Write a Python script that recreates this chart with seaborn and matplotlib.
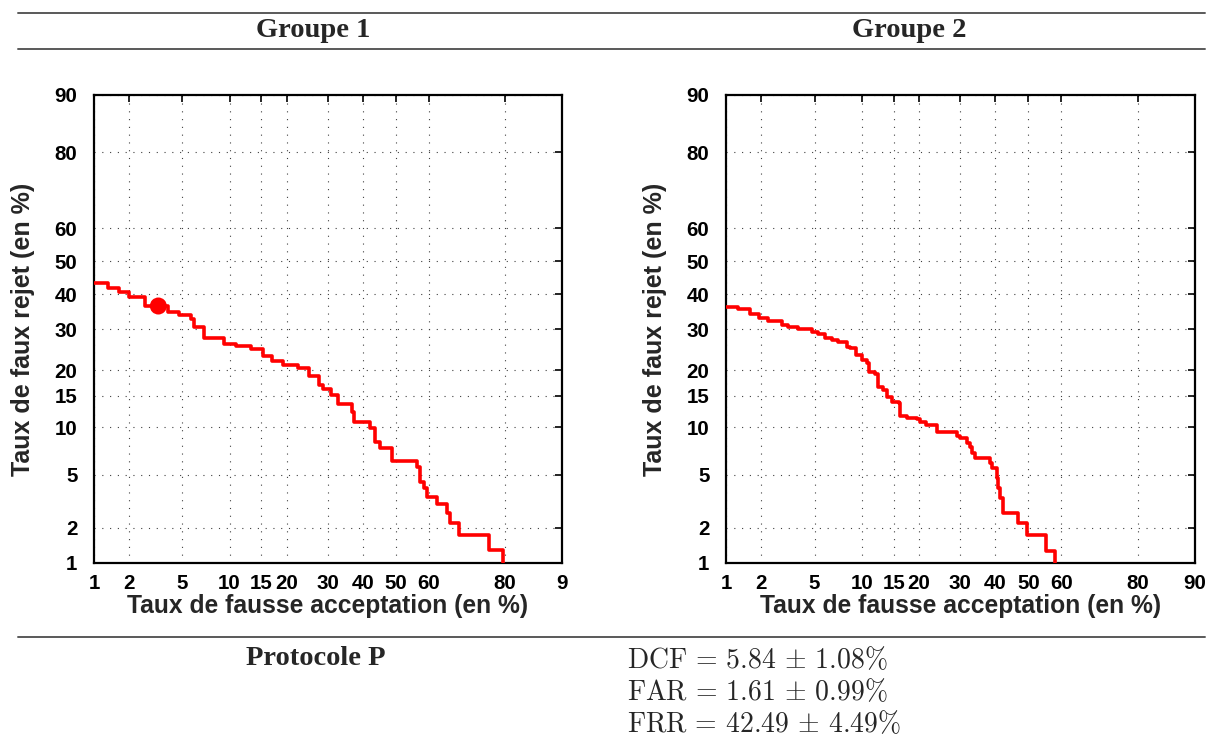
from statistics import NormalDist

import matplotlib
matplotlib.use("Agg")
import matplotlib.pyplot as plt
from matplotlib.lines import Line2D
from matplotlib.ticker import FixedLocator, FixedFormatter, NullLocator
import numpy as np
import pandas as pd
import seaborn as sns

# --- DATA (DET curves, percentages) ---
g1_fa = [1.0, 1.33, 1.33, 1.64, 1.64, 1.98, 1.98, 2.66, 2.66, 3.98, 3.98, 4.75, 4.75,
         5.7, 5.7, 6.0, 6.0, 6.98, 6.98, 9.3, 9.3, 10.9, 10.9, 13.2, 13.2, 15.3, 15.3,
         17.0, 17.0, 19.2, 19.2, 22.5, 22.5, 25.3, 25.3, 27.7, 27.7, 28.8, 28.8, 31.0,
         31.0, 32.8, 32.8, 36.9, 36.9, 37.5, 37.5, 42.1, 42.1, 43.6, 43.6, 45.2, 45.2,
         48.7, 48.7, 56.4, 56.4, 57.5, 57.5, 58.5, 58.5, 59.4, 59.4, 62.4, 62.4, 65.3,
         65.3, 66.1, 66.1, 68.6, 68.6, 76.3, 76.3, 79.6, 79.6]
g1_fr = [43.4, 43.4, 41.8, 41.8, 40.7, 40.7, 39.1, 39.1, 36.5, 36.5, 34.7, 34.7, 33.9,
         33.9, 32.7, 32.7, 30.5, 30.5, 27.6, 27.6, 26.2, 26.2, 25.7, 25.7, 24.9, 24.9,
         23.3, 23.3, 22.2, 22.2, 21.2, 21.2, 20.5, 20.5, 18.8, 18.8, 17.0, 17.0, 16.2,
         16.2, 15.1, 15.1, 13.6, 13.6, 12.2, 12.2, 10.7, 10.7, 9.9, 9.9, 8.2, 8.2, 7.5,
         7.5, 6.2, 6.2, 5.6, 5.6, 4.46, 4.46, 4.0, 4.0, 3.44, 3.44, 3.07, 3.07, 2.6,
         2.6, 2.17, 2.17, 1.74, 1.74, 1.30, 1.30, 0.5]

g2_fa = [1.0, 1.28, 1.28, 1.61, 1.61, 1.92, 1.92, 2.27, 2.27, 2.89, 2.89, 3.24, 3.24,
         3.84, 3.84, 4.78, 4.78, 5.3, 5.3, 5.88, 5.88, 6.52, 6.52, 7.19, 7.19, 8.11,
         8.11, 8.5, 8.5, 9.2, 9.2, 9.99, 9.99, 10.68, 10.68, 11.05, 11.05, 11.9, 11.9,
         12.4, 12.4, 13.2, 13.2, 13.8, 13.8, 14.7, 14.7, 15.9, 15.9, 16.2, 16.2, 17.5,
         17.5, 19.5, 19.5, 20.2, 20.2, 21.6, 21.6, 24.2, 24.2, 29.1, 29.1, 30.0, 30.0,
         31.8, 31.8, 32.7, 32.7, 33.1, 33.1, 34.1, 34.1, 38.4, 38.4, 38.9, 38.9, 40.4,
         40.4, 40.9, 40.9, 41.4, 41.4, 42.4, 42.4, 46.9, 46.9, 49.7, 49.7, 55.4, 55.4,
         58.1, 58.1]
g2_fr = [36.1, 36.1, 35.7, 35.7, 34.1, 34.1, 33.2, 33.2, 32.3, 32.3, 31.2, 31.2, 30.5,
         30.5, 30.1, 30.1, 29.4, 29.4, 28.8, 28.8, 27.8, 27.8, 27.2, 27.2, 26.6, 26.6,
         25.5, 25.5, 25.1, 25.1, 23.5, 23.5, 22.3, 22.3, 21.7, 21.7, 19.7, 19.7, 19.2,
         19.2, 16.7, 16.7, 16.05, 16.05, 14.8, 14.8, 13.95, 13.95, 13.7, 13.7, 11.65,
         11.65, 11.3, 11.3, 11.2, 11.2, 10.7, 10.7, 10.35, 10.35, 9.45, 9.45, 8.9, 8.9,
         8.6, 8.6, 8.0, 8.0, 7.65, 7.65, 6.95, 6.95, 6.5, 6.5, 5.97, 5.97, 5.52, 5.52,
         4.72, 4.72, 4.0, 4.0, 3.38, 3.38, 2.6, 2.6, 2.17, 2.17, 1.74, 1.74, 1.28, 1.28,
         0.5]

# operating point (DCF) on group 1
dcf_fa = [3.36]
dcf_fr = [36.5]

ticks = [1, 2, 5, 10, 15, 20, 30, 40, 50, 60, 80, 90]
tick_labels = ['1', '2', '5', '10', '15', '20', '30', '40', '50', '60', '80', '90']
xtick_labels_g1 = ['1', '2', '5', '10', '15', '20', '30', '40', '50', '60', '80', '9']

groups = ['Groupe 1', 'Groupe 2']
protocol = 'Protocole P'
results = [r'$\mathrm{DCF}\,=\,5.84\,\pm\,1.08\%$',
           r'$\mathrm{FAR}\,=\,1.61\,\pm\,0.99\%$',
           r'$\mathrm{FRR}\,=\,42.49\,\pm\,4.49\%$']

# --- probit scale ---
nd = NormalDist()
_inv = np.vectorize(nd.inv_cdf, otypes=[float])
_cdf = np.vectorize(nd.cdf, otypes=[float])


def probit(p):
    p = np.clip(np.asarray(p, dtype=float) / 100.0, 1e-9, 1 - 1e-9)
    p = np.where(np.isnan(p), 0.5, p)
    return _inv(p)


def inv_probit(z):
    z = np.asarray(z, dtype=float)
    z = np.where(np.isnan(z), 0.0, z)
    return _cdf(z) * 100.0


sns.set_theme(style='white')
plt.rcParams['font.family'] = ['Liberation Sans', 'DejaVu Sans']
plt.rcParams['mathtext.fontset'] = 'cm'

fig = plt.figure(figsize=(12.11, 7.43), dpi=100)

panels = [
    (pd.DataFrame({'fa': g1_fa, 'fr': g1_fr}), xtick_labels_g1, [94, 562]),
    (pd.DataFrame({'fa': g2_fa, 'fr': g2_fr}), tick_labels, [726, 1195]),
]

W, H = 1211, 743
for i, (df, xlabs, (x0, x1)) in enumerate(panels):
    ax = fig.add_axes([x0 / W, 1 - 563 / H, (x1 - x0) / W, 468 / H])
    ax.set_xscale('function', functions=(probit, inv_probit))
    ax.set_yscale('function', functions=(probit, inv_probit))

    sns.lineplot(data=df, x='fa', y='fr', sort=False, estimator=None,
                 color='#ff0000', lw=2.6, ax=ax, zorder=3)
    if i == 0:
        sns.scatterplot(x=dcf_fa, y=dcf_fr, color='#ff0000', s=150,
                        edgecolor='none', ax=ax, zorder=4)

    ax.set_xlim(1, 90)
    ax.set_ylim(1, 90)
    ax.xaxis.set_major_locator(FixedLocator(ticks))
    ax.xaxis.set_major_formatter(FixedFormatter(xlabs))
    ax.yaxis.set_major_locator(FixedLocator(ticks))
    ax.yaxis.set_major_formatter(FixedFormatter(tick_labels))
    ax.xaxis.set_minor_locator(NullLocator())
    ax.yaxis.set_minor_locator(NullLocator())

    ax.grid(True, which='major', color='0.25', linestyle=(0, (1, 6)), lw=0.8)
    ax.tick_params(direction='in', length=5, width=1.2, top=True, right=True,
                   labelsize=14.8, colors='black')
    ax.tick_params(axis='x', pad=8)
    ax.tick_params(axis='y', pad=12)
    for lab in ax.get_xticklabels() + ax.get_yticklabels():
        lab.set_fontweight('bold')
    for s in ax.spines.values():
        s.set_color('black')
        s.set_linewidth(1.6)

    ax.set_xlabel('Taux de fausse acceptation (en %)', fontsize=17.7,
                  fontweight='bold', labelpad=1)
    ax.set_ylabel('Taux de faux rejet (en %)', fontsize=18,
                  fontweight='bold', labelpad=14)

# table-like frame
for yl in [13, 49, 637]:
    fig.add_artist(Line2D([18 / W, 1205 / W], [1 - yl / H, 1 - yl / H],
                          transform=fig.transFigure, color='0.35', lw=1.4))

serif = ['Liberation Serif', 'DejaVu Serif']
for name, xc in zip(groups, [313, 909]):
    fig.text(xc / W, 1 - 37 / H, name, ha='center', va='baseline',
             fontsize=20.5, fontweight='bold', family=serif)
fig.text(316 / W, 1 - 665 / H, protocol, ha='center', va='baseline',
         fontsize=20.5, fontweight='bold', family=serif)
for line, yb in zip(results, [668, 700, 732]):
    fig.text(627 / W, 1 - yb / H, line, ha='left', va='baseline', fontsize=20)

fig.savefig('out.png', dpi=100)
